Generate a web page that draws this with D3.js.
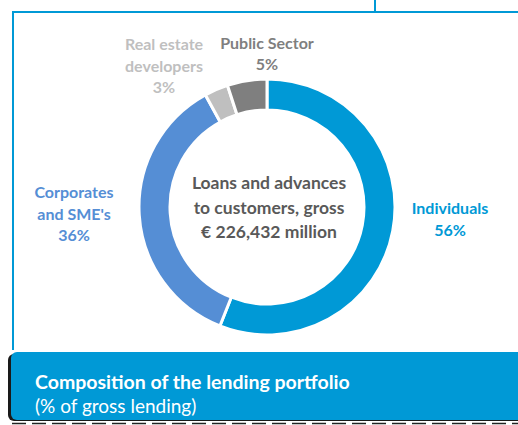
<!DOCTYPE html>
<html>
<head>
<meta charset="utf-8">
<script src="https://cdn.jsdelivr.net/npm/d3@7"></script>
<style>
  html, body { margin: 0; padding: 0; background: #fff; }
  svg { display: block; font-family: Lato, "Open Sans", sans-serif; }
</style>
</head>
<body>
<svg id="chart" width="518" height="425"></svg>
<script>
// Lending portfolio composition, share of gross lending (%)
const segments = ["Individuals", "Corporates and SME's", "Real estate developers", "Public Sector"];
const shares = [56, 36, 3, 5];
const segmentColors = ["#0099D6", "#558ED5", "#BFBFBF", "#7F7F7F"];

// Label lines drawn next to each slice
const labelLines = [
  ["Individuals", "56%"],
  ["Corporates", "and SME's", "36%"],
  ["Real estate", "developers", "3%"],
  ["Public Sector", "5%"]
];
const centerLines = ["Loans and advances", "to customers, gross", "€ 226,432 million"];
const titleText = "Composition of the lending portfolio";
const subtitleText = "(% of gross lending)";

const svg = d3.select("#chart");
const frameBlue = "#0099D6";

// Outer panel frame
svg.append("line").attr("x1", 12).attr("x2", 518).attr("y1", 12).attr("y2", 12)
  .attr("stroke", frameBlue).attr("stroke-width", 2);
svg.append("line").attr("x1", 13).attr("x2", 13).attr("y1", 11).attr("y2", 350)
  .attr("stroke", frameBlue).attr("stroke-width", 2);
svg.append("line").attr("x1", 375).attr("x2", 375).attr("y1", 0).attr("y2", 12)
  .attr("stroke", frameBlue).attr("stroke-width", 2);

// Donut
const cx = 267, cy = 207;
const outerR = 128, innerR = 97;
const pie = d3.pie().sort(null).value(d => d)(shares);
const arc = d3.arc().innerRadius(innerR).outerRadius(outerR);

const g = svg.append("g").attr("transform", `translate(${cx},${cy})`);
g.selectAll("path.slice")
  .data(pie)
  .join("path")
  .attr("class", "slice")
  .attr("d", arc)
  .attr("fill", (d, i) => segmentColors[i])
  .attr("stroke", "#fff")
  .attr("stroke-width", 3)
  .attr("stroke-linejoin", "miter");

// Slice labels
const labelPos = [
  { x: 450, y: 214 },
  { x: 74, y: 198 },
  { x: 164, y: 50 },
  { x: 267, y: 49 }
];
const labelGap = [22, 21.5, 21.5, 21];
labelLines.forEach((lines, i) => {
  const t = svg.append("text")
    .attr("text-anchor", "middle")
    .attr("font-weight", 700)
    .attr("font-size", 16)
    .attr("fill", segmentColors[i]);
  lines.forEach((s, k) => {
    t.append("tspan").attr("x", labelPos[i].x).attr("y", labelPos[i].y + k * labelGap[i]).text(s);
  });
});

// Center caption
const ct = svg.append("text")
  .attr("text-anchor", "middle")
  .attr("font-weight", 700)
  .attr("font-size", 17.5)
  .attr("fill", "#595959");
centerLines.forEach((s, k) => {
  ct.append("tspan").attr("x", 269).attr("y", 189 + k * 24.5).text(s);
});

// Title banner
svg.append("rect").attr("x", 8).attr("y", 354).attr("width", 520).attr("height", 67)
  .attr("rx", 6).attr("fill", "#1a1a1a");
svg.append("rect").attr("x", 11).attr("y", 352).attr("width", 520).attr("height", 68)
  .attr("rx", 6).attr("fill", frameBlue);
svg.append("text").attr("x", 35).attr("y", 389)
  .attr("font-weight", 700).attr("font-size", 19.5).attr("fill", "#fff")
  .text(titleText);
svg.append("text").attr("x", 35).attr("y", 413)
  .attr("font-size", 19).attr("fill", "#fff")
  .text(subtitleText);

// Dashed rule under the banner
svg.append("line").attr("x1", 12).attr("x2", 518).attr("y1", 423.5).attr("y2", 423.5)
  .attr("stroke", "#222").attr("stroke-width", 1.5).attr("stroke-dasharray", "14 6");
</script>
</body>
</html>
